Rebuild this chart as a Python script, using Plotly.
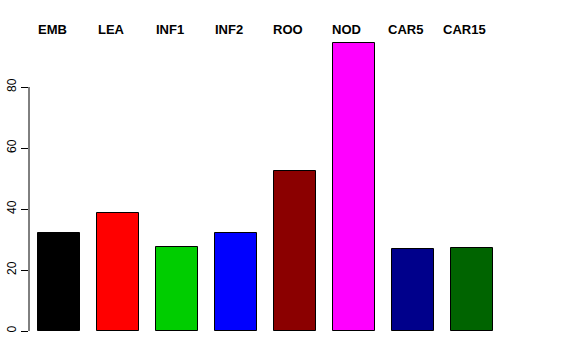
import plotly.graph_objects as go

categories = ["EMB", "LEA", "INF1", "INF2", "ROO", "NOD", "CAR5", "CAR15"]
values = [32.1, 38.6, 27.5, 32.1, 52.5, 94.4, 26.9, 27.2]
colors = ["#000000", "#FF0000", "#00CD00", "#0000FF", "#8B0000", "#FF00FF", "#00008B", "#006400"]
y_ticks = [0, 20, 40, 60, 80]

positions = [0.9 + 1.4 * i for i in range(len(categories))]

W, H = 576, 360
L, T, R, B = 29, 32, 65, 18
plot_h = H - T - B

fig = go.Figure()
fig.add_trace(go.Bar(
    x=positions, y=values, width=1.0,
    marker=dict(color=colors, line=dict(color="#000000", width=1)),
    hoverinfo="skip", showlegend=False,
))

for p, c in zip(positions, categories):
    fig.add_annotation(x=p, xref="x", y=1 + 2.5 / plot_h, yref="paper", text="<b>%s</b>" % c,
                       showarrow=False, yanchor="middle", xanchor="center", xshift=-7,
                       font=dict(family="Liberation Sans, Arial, sans-serif", size=13, color="#000000"))

fig.add_shape(type="line", xref="paper", yref="y", x0=0, x1=0, y0=y_ticks[0], y1=y_ticks[-1],
              line=dict(color="#000000", width=1))

fig.update_layout(
    width=W, height=H,
    margin=dict(l=L, r=R, t=T, b=B, pad=0, autoexpand=False),
    paper_bgcolor="white", plot_bgcolor="white",
    font=dict(family="Liberation Sans, Arial, sans-serif", size=12, color="#000000"),
    bargap=0,
    xaxis=dict(range=[0.188, 11.626], showgrid=False, zeroline=False, showticklabels=False,
               ticks="", showline=False, fixedrange=True, automargin=False),
    yaxis=dict(range=[-3.6, 98.03], showgrid=False, zeroline=False, showline=False,
               tickvals=y_ticks, ticktext=[str(v) for v in y_ticks], ticks="outside",
               ticklen=7, tickwidth=1, tickcolor="#000000", tickangle=-90,
               tickfont=dict(size=12), fixedrange=True, automargin=False),
)

fig.write_html("out.html", config={"displayModeBar": False},
               post_script="document.body.style.margin='0';")
